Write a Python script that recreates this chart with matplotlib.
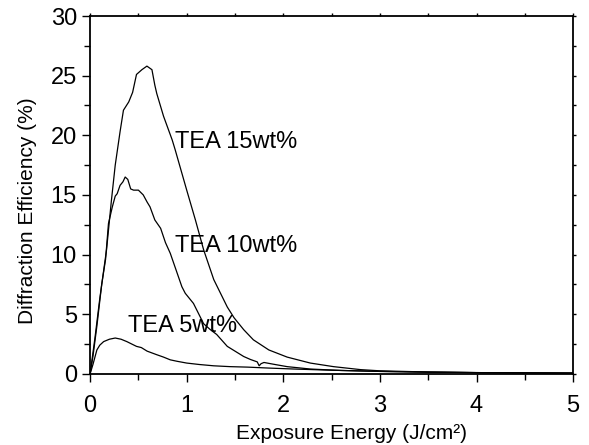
import matplotlib.pyplot as plt
from matplotlib.ticker import MultipleLocator

# curvas (energia em J/cm2, eficiencia em %)
e15 = [0.0, 0.05, 0.10, 0.17, 0.22, 0.26, 0.31, 0.345, 0.40, 0.44, 0.48, 0.536, 0.588,
       0.64, 0.67, 0.69, 0.76, 0.85, 0.88, 1.0, 1.09, 1.175, 1.28, 1.42, 1.49, 1.59,
       1.69, 1.85, 2.04, 2.28, 2.52, 2.80, 3.0, 3.5, 4.0, 4.5, 5.0]
d15 = [0.0, 3.0, 6.3, 10.4, 14.5, 17.5, 20.3, 22.1, 22.8, 23.6, 25.1, 25.5, 25.8,
       25.5, 24.2, 23.5, 21.6, 19.6, 18.8, 15.4, 12.9, 10.4, 7.9, 5.6, 4.7, 3.7,
       2.85, 2.0, 1.4, 0.9, 0.6, 0.35, 0.25, 0.15, 0.1, 0.08, 0.06]

e10 = [0.0, 0.03, 0.07, 0.12, 0.16, 0.19, 0.23, 0.26, 0.28, 0.31, 0.34, 0.363, 0.39, 0.42,
       0.45, 0.50, 0.55, 0.59, 0.62, 0.67, 0.73, 0.78, 0.83, 0.95, 0.985, 1.07, 1.175,
       1.245, 1.31, 1.42, 1.50, 1.59, 1.66, 1.73, 1.75, 1.77, 1.80, 1.90, 2.04, 2.28, 2.6,
       3.0, 3.5, 4.0, 4.5, 5.0]
d10 = [0.0, 1.5, 4.0, 7.5, 9.6, 12.6, 14.0, 14.9, 15.1, 15.8, 16.1, 16.5, 16.3, 15.5,
       15.4, 15.4, 15.0, 14.4, 14.0, 12.9, 12.2, 11.0, 10.1, 7.3, 6.75, 5.9, 4.2,
       3.7, 3.3, 2.3, 1.9, 1.45, 1.2, 1.0, 0.67, 0.85, 0.95, 0.8, 0.6, 0.4, 0.28,
       0.2, 0.14, 0.1, 0.08, 0.06]

e5 = [0.0, 0.03, 0.07, 0.10, 0.14, 0.20, 0.26, 0.32, 0.38, 0.43, 0.48, 0.53, 0.59, 0.64,
      0.69, 0.76, 0.83, 0.90, 1.0, 1.13, 1.28, 1.45, 1.63, 1.85, 2.11, 2.5, 3.0, 3.5,
      4.0, 4.5, 5.0]
d5 = [0.0, 0.8, 2.0, 2.4, 2.7, 2.9, 3.0, 2.9, 2.7, 2.5, 2.3, 2.2, 1.9, 1.75,
      1.6, 1.4, 1.17, 1.05, 0.9, 0.78, 0.67, 0.6, 0.56, 0.48, 0.4, 0.3, 0.2, 0.14,
      0.1, 0.08, 0.06]

labels = ['TEA 15wt%', 'TEA 10wt%', 'TEA 5wt%']
label_pos = [[0.88, 19.4], [0.88, 10.7], [0.39, 4.0]]

plt.rcParams['font.family'] = ['Liberation Sans', 'DejaVu Sans']

fig = plt.figure(figsize=(5.89, 4.45), dpi=100)
ax = fig.add_axes([0.153, 0.160, 0.820, 0.804])

for e, d in [(e15, d15), (e10, d10), (e5, d5)]:
    ax.plot(e, d, color='black', lw=0.9)

for n, lab in enumerate(labels):
    ax.text(label_pos[n][0], label_pos[n][1], lab, fontsize=17,
            va='center', ha='left')

ax.set_xlim(0, 5)
ax.set_ylim(0, 30)
ax.xaxis.set_major_locator(MultipleLocator(1))
ax.xaxis.set_minor_locator(MultipleLocator(0.5))
ax.yaxis.set_major_locator(MultipleLocator(5))
ax.yaxis.set_minor_locator(MultipleLocator(2.5))
ax.tick_params(which='both', direction='out', labelsize=17, width=1)
ax.tick_params(which='major', length=6)
ax.tick_params(which='minor', length=4)
ax.tick_params(axis='x', which='major', pad=9)
ax.tick_params(which='both', top=True, right=True)
# marcas pequenas em cima e na direita
for t in ax.xaxis.get_major_ticks() + ax.xaxis.get_minor_ticks():
    t.tick2line.set_markersize(2)
for t in ax.yaxis.get_major_ticks() + ax.yaxis.get_minor_ticks():
    t.tick2line.set_markersize(2)
for s in ax.spines.values():
    s.set_linewidth(1.3)

ax.set_xlabel('Exposure Energy (J/cm²)', fontsize=15)
ax.set_ylabel('Diffraction Efficiency (%)', fontsize=15)
ax.xaxis.set_label_coords(0.542, -0.14)
ax.yaxis.set_label_coords(-0.11, 0.455)

fig.savefig('out.png', dpi=100)
